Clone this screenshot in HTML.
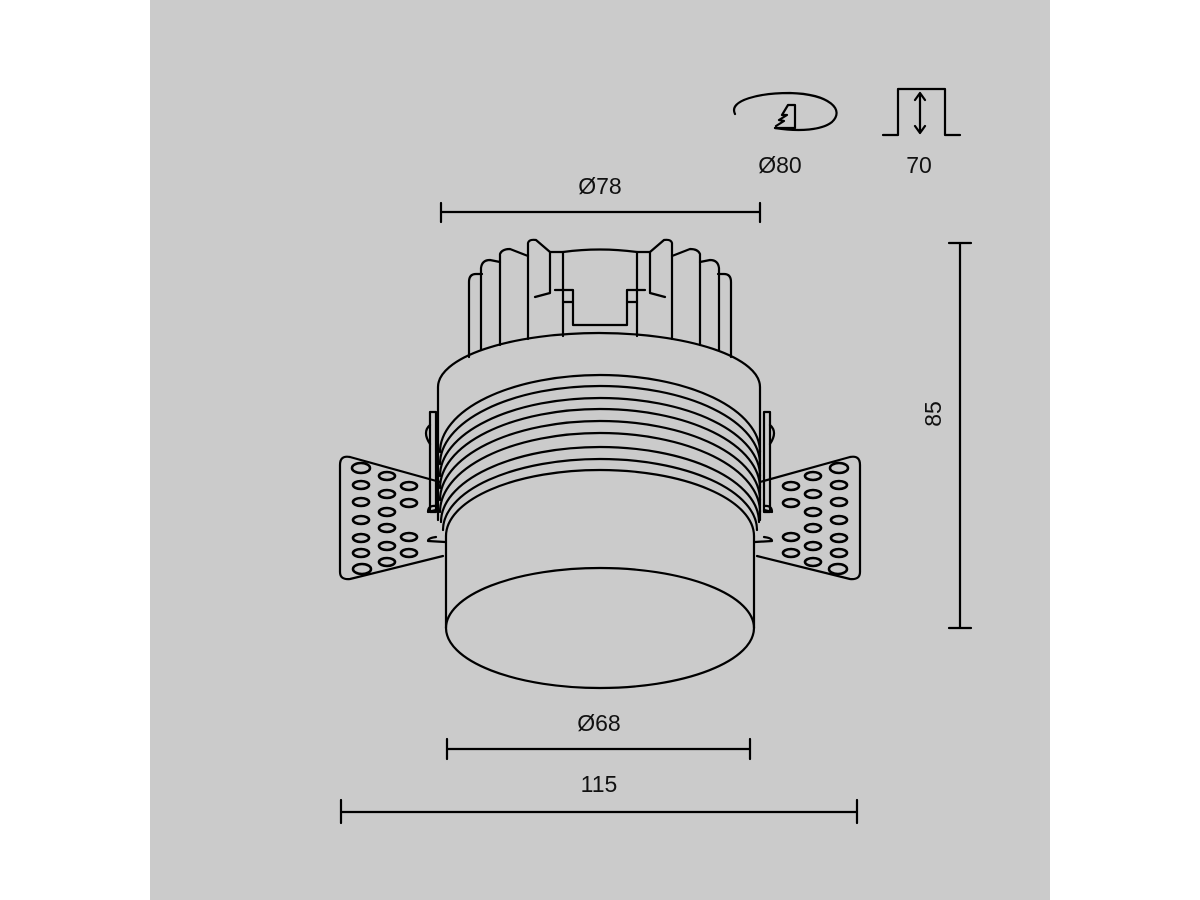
<!DOCTYPE html>
<html><head><meta charset="utf-8"><style>
html,body{margin:0;padding:0;background:#fff;width:1200px;height:900px;overflow:hidden}
svg{display:block}
text{font-family:"Liberation Sans",sans-serif;font-size:23px;fill:#111}
</style></head><body>
<svg width="1200" height="900" viewBox="0 0 1200 900">
<rect x="0" y="0" width="1200" height="900" fill="#fff"/>
<rect x="150" y="0" width="900" height="900" fill="#cbcbcb"/>
<g fill="none" stroke="#000" stroke-width="2.2" stroke-linejoin="round" stroke-linecap="round">
<path d="M735 114 C728 100 760 93 790 93 C830 94 845 110 832 122 C822 130 800 132 775 128"/>
<path d="M775 128 L795 128 L795 105 L788 105 L782 115 L787 115 L779 120 L784 121 L776 126"/>
<path d="M883 135 L898 135 L898 89 L945 89 L945 135 L960 135"/>
<path d="M920 93 L920 133 M915 100 L920 93 L925 100 M915 126 L920 133 L925 126"/>
<path d="M441 212 L760 212 M441 203 L441 222 M760 203 L760 222"/>
<path d="M447 749 L750 749 M447 739 L447 759 M750 739 L750 759"/>
<path d="M341 812 L857 812 M341 800 L341 823 M857 800 L857 823"/>
<path d="M960 243 L960 628 M949 243 L971 243 M949 628 L971 628"/>
<path d="M469 357 L469 282 Q469 274 476 274 L482 274"/>
<path d="M481 350 L481 268 Q482 260 490 260 L500 262"/>
<path d="M500 345 L500 254 Q502 249 510 249 L528 256"/>
<path d="M528 339 L528 243 Q529 239 536 240 L550 252"/>
<path d="M731 357 L731 282 Q731 274 724 274 L718 274"/>
<path d="M719 350 L719 268 Q718 260 710 260 L700 262"/>
<path d="M700 345 L700 254 Q698 249 690 249 L672 256"/>
<path d="M672 339 L672 243 Q671 239 664 240 L650 252"/>
<path d="M550 252 L550 293 L535 297 M550 252 L563 252 L563 336"/>
<path d="M650 252 L650 293 L665 297 M650 252 L637 252 L637 336"/>
<path d="M563 252 Q600 247 637 252"/>
<path d="M555 290 L573 290 L573 302 L563 302 M573 302 L573 325 L627 325 L627 302 L637 302 M627 302 L627 290 L645 290"/>
<path d="M438 520 L438 387 A161 54 0 0 1 760 387 L760 520"/>
<path d="M430 412 L430 512 L436 512 L436 412 Z M764 412 L764 512 L770 512 L770 412 Z"/>
<path d="M430 425 Q422 432 430 444 M770 425 Q778 432 770 444"/>
<path d="M440 452 A160 77 0 0 1 760 452"/>
<path d="M440 464 A160 78 0 0 1 760 464"/>
<path d="M440 476 A160 78 0 0 1 760 476"/>
<path d="M440 488 A160 79 0 0 1 760 488"/>
<path d="M440 500 A160 79 0 0 1 760 500"/>
<path d="M440 512 A160 79 0 0 1 760 512"/>
<path d="M441 522 A159 75 0 0 1 759 522"/>
<path d="M443 530 A157 71 0 0 1 757 530"/>
<path d="M446 536 A154 66 0 0 1 754 536"/>
<path d="M446 536 L446 628 M754 536 L754 628"/>
<ellipse cx="600" cy="628" rx="154" ry="60"/>
<path d="M440 482 L350 457 Q340 455 340 465 L340 572 Q340 580 350 579 L443 556"/>
<path d="M436 506 Q428 505 428 512 L436 510 M436 537 Q428 538 428 541 L445 542"/>
<path d="M760 482 L850 457 Q860 455 860 465 L860 572 Q860 580 850 579 L757 556"/>
<path d="M764 506 Q772 505 772 512 L764 510 M764 537 Q772 538 772 541 L755 542"/>
</g>
<g fill="none" stroke="#000" stroke-width="2.6">
<ellipse cx="361" cy="468" rx="9" ry="5"/><ellipse cx="361" cy="485" rx="8" ry="4"/><ellipse cx="361" cy="502" rx="8" ry="4"/><ellipse cx="361" cy="520" rx="8" ry="4"/><ellipse cx="361" cy="538" rx="8" ry="4"/><ellipse cx="361" cy="553" rx="8" ry="4"/><ellipse cx="362" cy="569" rx="9" ry="5"/>
<ellipse cx="387" cy="476" rx="8" ry="4"/><ellipse cx="387" cy="494" rx="8" ry="4"/><ellipse cx="387" cy="512" rx="8" ry="4"/><ellipse cx="387" cy="528" rx="8" ry="4"/><ellipse cx="387" cy="546" rx="8" ry="4"/><ellipse cx="387" cy="562" rx="8" ry="4"/>
<ellipse cx="409" cy="486" rx="8" ry="4"/><ellipse cx="409" cy="503" rx="8" ry="4"/><ellipse cx="409" cy="537" rx="8" ry="4"/><ellipse cx="409" cy="553" rx="8" ry="4"/>
<ellipse cx="839" cy="468" rx="9" ry="5"/><ellipse cx="839" cy="485" rx="8" ry="4"/><ellipse cx="839" cy="502" rx="8" ry="4"/><ellipse cx="839" cy="520" rx="8" ry="4"/><ellipse cx="839" cy="538" rx="8" ry="4"/><ellipse cx="839" cy="553" rx="8" ry="4"/><ellipse cx="838" cy="569" rx="9" ry="5"/>
<ellipse cx="813" cy="476" rx="8" ry="4"/><ellipse cx="813" cy="494" rx="8" ry="4"/><ellipse cx="813" cy="512" rx="8" ry="4"/><ellipse cx="813" cy="528" rx="8" ry="4"/><ellipse cx="813" cy="546" rx="8" ry="4"/><ellipse cx="813" cy="562" rx="8" ry="4"/>
<ellipse cx="791" cy="486" rx="8" ry="4"/><ellipse cx="791" cy="503" rx="8" ry="4"/><ellipse cx="791" cy="537" rx="8" ry="4"/><ellipse cx="791" cy="553" rx="8" ry="4"/>
</g>
<text x="600" y="194" text-anchor="middle">Ø78</text>
<text x="780" y="173" text-anchor="middle">Ø80</text>
<text x="919" y="173" text-anchor="middle">70</text>
<text x="599" y="731" text-anchor="middle">Ø68</text>
<text x="599" y="792" text-anchor="middle">115</text>
<text x="0" y="0" text-anchor="middle" transform="translate(941 414) rotate(-90)">85</text>
</svg>
</body></html>
